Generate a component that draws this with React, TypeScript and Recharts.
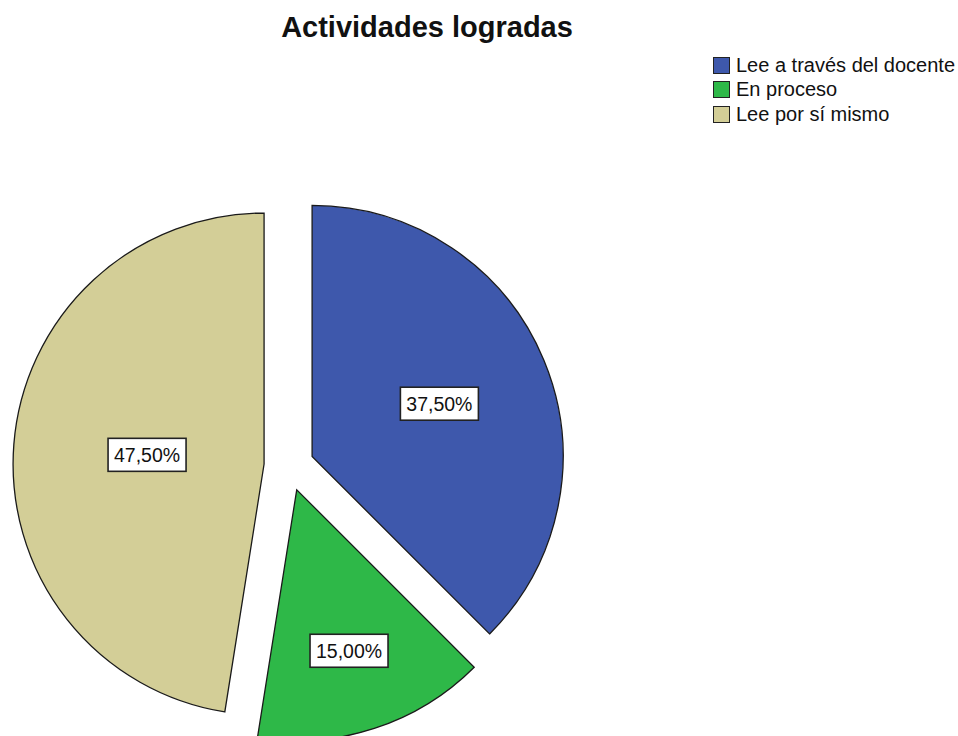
import { PieChart, Pie, Cell, Sector, Legend } from "recharts";

const CATEGORIES = ["Lee a través del docente", "En proceso", "Lee por sí mismo"];
const PERCENTS = [37.5, 15.0, 47.5];
const COLORS = ["#3E58AC", "#2EB848", "#D3CE97"];

const data = CATEGORIES.map((name, i) => ({ name, value: PERCENTS[i] }));

const RAD = Math.PI / 180;
const EXPLODE = 25;
const FONT = "'Liberation Sans', Arial, sans-serif";

const fmt = (v: number) => v.toFixed(2).replace(".", ",") + "%";

// draws the exploded slice + its value box (the real sectors are left invisible)
function SliceLabel(props: any) {
  const { cx, cy, outerRadius, startAngle, endAngle, midAngle, index, value } = props;
  const dx = EXPLODE * Math.cos(-midAngle * RAD);
  const dy = EXPLODE * Math.sin(-midAngle * RAD);
  const half = (Math.abs(endAngle - startAngle) / 2) * RAD;
  const dist = (1.05 * 2 * outerRadius * Math.sin(half)) / (3 * half);
  const lx = cx + dx + dist * Math.cos(-midAngle * RAD);
  const ly = cy + dy + dist * Math.sin(-midAngle * RAD);
  const w = 78;
  const h = 33;
  return (
    <g>
      <Sector
        cx={cx + dx}
        cy={cy + dy}
        innerRadius={0}
        outerRadius={outerRadius}
        startAngle={startAngle}
        endAngle={endAngle}
        fill={COLORS[index]}
        stroke="#1a1a1a"
        strokeWidth={1.3}
      />
      <rect x={lx - w / 2} y={ly - h / 2} width={w} height={h} fill="#fff" stroke="#222" strokeWidth={1.6} />
      <text x={lx} y={ly + 7} textAnchor="middle" fontSize={19.5} fill="#111" fontFamily={FONT}>
        {fmt(value)}
      </text>
    </g>
  );
}

function LegendBox() {
  return (
    <div style={{ fontFamily: FONT, fontSize: 20, color: "#111" }}>
      {CATEGORIES.map((c, i) => (
        <div key={c} style={{ display: "flex", alignItems: "center", height: 24.5 }}>
          <span
            style={{
              width: 15,
              height: 15,
              background: COLORS[i],
              border: "1.5px solid #222",
              marginRight: 6,
              display: "inline-block",
            }}
          />
          <span>{c}</span>
        </div>
      ))}
    </div>
  );
}

export default function App() {
  return (
    <div style={{ position: "absolute", left: 0, top: 0, width: 958, height: 736, background: "#fff", overflow: "hidden" }}>
      <div
        style={{
          position: "absolute",
          left: 0,
          top: 11,
          width: 854,
          textAlign: "center",
          fontFamily: FONT,
          fontWeight: "bold",
          fontSize: 29,
          color: "#111",
        }}
      >
        Actividades logradas
      </div>
      <PieChart width={958} height={736} margin={{ top: 0, right: 0, bottom: 0, left: 0 }} style={{ position: "absolute", left: 0, top: 0 }}>
        <Legend
          layout="vertical"
          verticalAlign="top"
          align="right"
          content={() => <LegendBox />}
          wrapperStyle={{ left: 713, top: 53, width: 245 }}
        />
        <Pie
          data={data}
          dataKey="value"
          nameKey="name"
          cx={289}
          cy={466}
          outerRadius={251}
          startAngle={90}
          endAngle={-270}
          isAnimationActive={false}
          labelLine={false}
          label={SliceLabel}
          stroke="none"
        >
          {data.map((d) => (
            <Cell key={d.name} fill="none" />
          ))}
        </Pie>
      </PieChart>
    </div>
  );
}
